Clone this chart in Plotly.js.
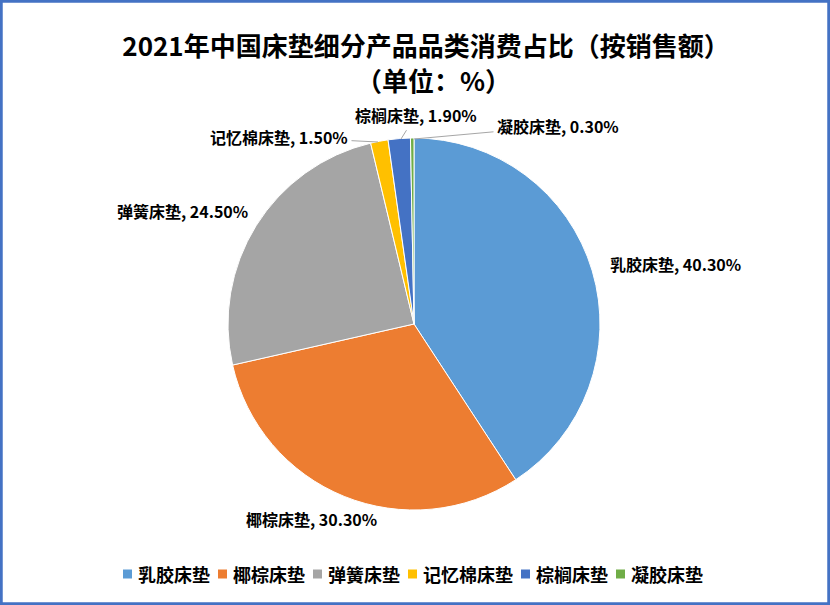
<!DOCTYPE html>
<html><head><meta charset="utf-8">
<script src="https://cdn.plot.ly/plotly-3.0.1.min.js"></script>
<style>html,body{margin:0;padding:0;background:#fff}#chart{width:830px;height:605px}</style>
</head><body><div id="chart"></div>
<script>
const categories = ["乳胶床垫","椰棕床垫","弹簧床垫","记忆棉床垫","棕榈床垫","凝胶床垫"];
const shares = [40.3, 30.3, 24.5, 1.5, 1.9, 0.3];
const colors = ["#5B9BD5","#ED7D31","#A5A5A5","#FFC000","#4472C4","#70AD47"];
const titleLine1 = "2021年中国床垫细分产品品类消费占比（按销售额）";
const titleLine2 = "（单位：%）";

// label placement (layout only, pixels in the 830x605 canvas)
const W = 830, H = 605;
const labelPos = [
  {x:675, y:264},
  {x:311, y:519},
  {x:182, y:211},
  {x:279, y:137, tx:378, ty:142},
  {x:416, y:115, tx:401, ty:139},
  {x:558, y:126, tx:414, ty:139}
];
const FONT = "'Noto Sans CJK SC', 'Noto Sans', sans-serif";

const annotations = categories.map((c, i) => {
  const p = labelPos[i];
  const txt = "<b>" + c + ", " + shares[i].toFixed(2) + "%</b>";
  const a = {text: txt, xref:"paper", yref:"paper", showarrow:false,
    font:{family:FONT, size:16, color:"#000"}, xanchor:"center", yanchor:"middle"};
  if (p.tx !== undefined) {
    a.showarrow = true; a.arrowhead = 0; a.arrowwidth = 1; a.arrowcolor = "#A6A6A6";
    a.x = p.tx / W; a.y = 1 - p.ty / H;
    a.ax = p.x - p.tx; a.ay = p.y - p.ty;
    a.standoff = 0; a.startstandoff = 2;
  } else {
    a.x = p.x / W; a.y = 1 - p.y / H;
  }
  return a;
});
annotations.push({text: "<b>" + titleLine2 + "</b>", xref:"paper", yref:"paper", x: 433 / W, y: 1 - 79 / H,
  xanchor:"center", yanchor:"middle", showarrow:false, font:{family:FONT, size:26, color:"#000"}});

const shapes = [{type: "rect", xref: "paper", yref: "paper", x0: 0.0015, x1: 0.9985, y0: 0.002, y1: 0.998,
  line: {color: "#4472C4", width: 3}}];

// legend (layout): square + label per category
const legY = 574, legFont = 18, sq = 9, txtOff = 14, gap = 9;
let lx = 123;
categories.forEach((c, i) => {
  shapes.push({type: "rect", xref: "paper", yref: "paper",
    x0: lx / W, x1: (lx + sq) / W, y0: 1 - (legY + sq / 2) / H, y1: 1 - (legY - sq / 2) / H,
    fillcolor: colors[i], line: {width: 0}});
  annotations.push({text: "<b>" + c + "</b>", xref: "paper", yref: "paper", x: (lx + txtOff) / W, y: 1 - legY / H,
    xanchor: "left", yanchor: "middle", showarrow: false, borderpad: 0,
    font: {family: FONT, size: legFont, color: "#000"}});
  lx += txtOff + c.length * legFont + gap;
});

const cx = 414, cy = 324, r = 186;
const trace = {
  type: "pie",
  labels: categories,
  values: shares,
  sort: false,
  direction: "clockwise",
  rotation: 0,
  textinfo: "none",
  hoverinfo: "label+percent",
  marker: {colors: colors, line: {color: "#fff", width: 1}},
  domain: {x: [(cx - r) / W, (cx + r) / W], y: [1 - (cy + r) / H, 1 - (cy - r) / H]}
};

const layout = {
  width: W, height: H,
  margin: {l:0, r:0, t:0, b:0},
  paper_bgcolor: "#fff",
  font: {family: FONT},
  title: {text: "<b>" + titleLine1 + "</b>", x: 426 / W, xanchor: "center", y: 1 - 47 / H, yanchor: "middle",
    font: {family: FONT, size: 26, color: "#000"}},
  showlegend: false,
  annotations: annotations,
  shapes: shapes
};

Plotly.newPlot("chart", [trace], layout, {displayModeBar: false, staticPlot: true});
</script></body></html>
